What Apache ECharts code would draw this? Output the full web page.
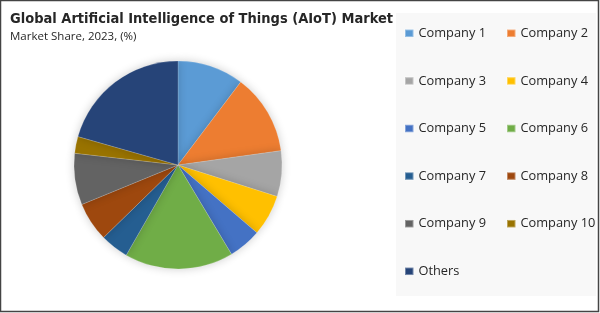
<!DOCTYPE html>
<html>
<head>
<meta charset="utf-8">
<script src="https://cdn.jsdelivr.net/npm/echarts@6/dist/echarts.min.js"></script>
<style>
html,body{margin:0;padding:0;background:#fff;}
#chart{width:600px;height:313px;}
</style>
</head>
<body>
<div id="chart"></div>
<script>
const categories = ["Company 1","Company 2","Company 3","Company 4","Company 5","Company 6","Company 7","Company 8","Company 9","Company 10","Others"];
const shares = [10.3, 12.5, 7.1, 6.4, 5.1, 16.9, 4.4, 6.1, 8.0, 2.6, 20.6];
const colors = ["#5B9BD5","#ED7D31","#A5A5A5","#FFC000","#4472C4","#70AD47","#255E91","#9E480E","#636363","#997300","#264478"];
const titleText = "Global Artificial Intelligence of Things (AIoT) Market";
const subtitleText = "Market Share, 2023, (%)";

const col1 = categories.filter((c, i) => i % 2 === 0);
const col2 = categories.filter((c, i) => i % 2 === 1);

const chart = echarts.init(document.getElementById('chart'), null, {renderer: 'canvas'});
const legendBase = {
  orient: 'vertical',
  top: 26.3,
  padding: 0,
  icon: 'rect',
  itemWidth: 8.5,
  itemHeight: 7.5,
  itemGap: 33.6,
  selectedMode: false,
  textStyle: {fontFamily: 'Open Sans', fontSize: 12.8, color: '#262626', lineHeight: 14}
};
chart.setOption({
  animation: false,
  color: colors,
  graphic: [
    {type: 'rect', shape: {x: 0.5, y: 0.5, width: 598, height: 311}, style: {fill: '#fff', stroke: '#444', lineWidth: 1.5}, z: -10},
    {type: 'rect', shape: {x: 396, y: 13, width: 200, height: 283}, style: {fill: '#f8f8f8'}, z: -5}
  ],
  title: {
    text: titleText,
    subtext: subtitleText,
    left: 10,
    top: 10,
    padding: 0,
    itemGap: 2,
    textStyle: {fontFamily: 'DejaVu Sans Condensed', fontWeight: 'bold', fontSize: 14.5, color: '#262626', lineHeight: 18},
    subtextStyle: {fontFamily: 'Open Sans', fontSize: 11.5, color: '#262626', lineHeight: 14}
  },
  legend: [
    Object.assign({}, legendBase, {left: 404, data: col1}),
    Object.assign({}, legendBase, {left: 506, data: col2})
  ],
  series: [{
    type: 'pie',
    center: [178, 165],
    radius: [0, 104],
    startAngle: 90,
    clockwise: true,
    label: {show: false},
    labelLine: {show: false},
    itemStyle: {borderColor: 'rgba(255,255,255,0.35)', borderWidth: 0.5, shadowBlur: 10, shadowColor: 'rgba(0,0,0,0.2)'},
    emphasis: {disabled: true},
    data: categories.map((c, i) => ({name: c, value: shares[i]}))
  }]
});
</script>
</body>
</html>
